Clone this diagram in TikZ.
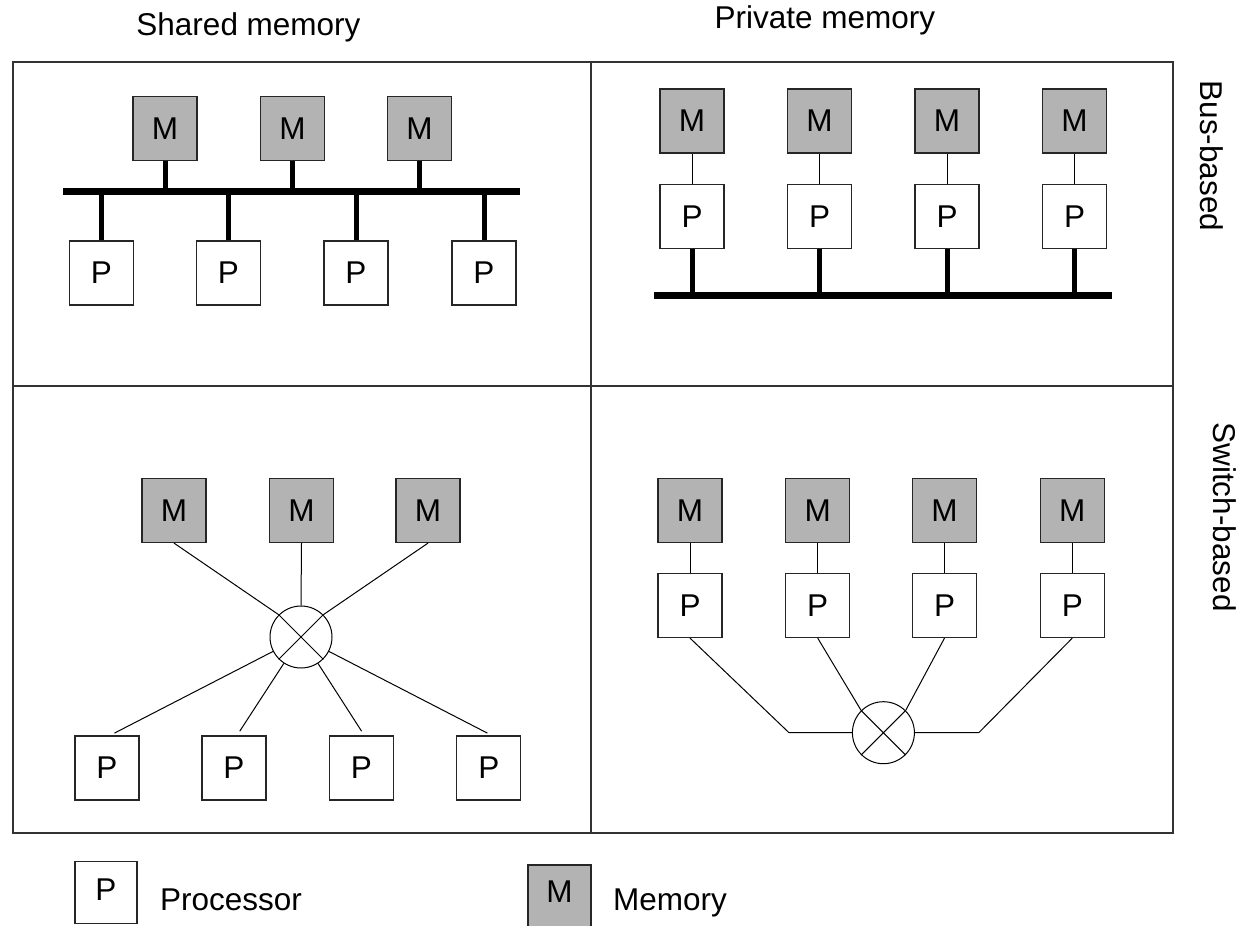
\documentclass[tikz,border=0pt]{standalone}
\usepackage{fontspec}
\setmainfont{Liberation Sans}
\definecolor{memgray}{RGB}{179,179,179}
\begin{document}
\begin{tikzpicture}[x=1pt,y=-1pt,
  txt/.style={font=\fontsize{31.5}{36}\selectfont, inner sep=0pt},
  pbox/.style={draw=black!85, line width=1.2pt, fill=white, minimum width=64pt, minimum height=64pt, inner sep=0pt, font=\fontsize{31.5}{36}\selectfont},
  mbox/.style={pbox, fill=memgray},
  bus/.style={line width=7pt},
  stub/.style={line width=5pt},
  wire/.style={line width=1pt},
  swc/.style={circle, draw, line width=1pt, minimum size=62pt, inner sep=0pt},
  frame/.style={line width=1.3pt, draw=black!80}]
\useasboundingbox (0,0) rectangle (1240,926);
% frame
\draw[frame] (13,62) rectangle (1173,833);
\draw[frame] (591,62) -- (591,833);
\draw[frame] (13,386) -- (1173,386);
% headers
\node[txt, anchor=base] (h1) at (248.5,35) {Shared memory};
\node[txt, anchor=base] (h2) at (825,28) {Private memory};
\node[txt, rotate=-90] (busl) at (1212,156) {Bus-based};
\node[txt, rotate=-90] (swl) at (1225,517) {Switch-based};
% top-left: shared memory, bus
\coordinate (busAL) at (63,191.5);
\coordinate (busAR) at (520,191.5);
\draw[bus] (busAL) -- (busAR);
\foreach \i/\x in {1/165,2/292.5,3/419.5}{
  \node[mbox] (a\i) at (\x,128.5) {M};
  \draw[stub] (a\i.south) -- (a\i.south |- busAL);
}
\foreach \i/\x in {1/101.5,2/228.5,3/356,4/484}{
  \node[pbox] (ap\i) at (\x,273) {P};
  \draw[stub] (ap\i.north) -- (ap\i.north |- busAL);
}
% top-right: private memory, bus
\coordinate (busBL) at (654,295);
\coordinate (busBR) at (1111.5,295);
\draw[bus] (busBL) -- (busBR);
\foreach \i/\x in {1/692,2/819.5,3/947,4/1074.5}{
  \node[mbox] (b\i) at (\x,121) {M};
  \node[pbox] (bp\i) at (\x,216.5) {P};
  \draw[wire] (b\i.south) -- (bp\i.north);
  \draw[stub] (bp\i.south) -- (bp\i.south |- busBL);
}
% bottom-left: shared memory, switch
\node[swc] (csw) at (301,637) {};
\draw[wire] (csw.45) -- (csw.225) (csw.135) -- (csw.315);
\foreach \i/\x in {1/174,2/301.5,3/428}{
  \node[mbox] (c\i) at (\x,510.5) {M};
}
\draw[wire] (c1.south) -- (csw.135);
\draw[wire] (c2.south) -- (csw.north);
\draw[wire] (c3.south) -- (csw.45);
\foreach \i/\x in {1/107,2/234,3/361.3,4/488.8}{
  \node[pbox] (cp\i) at (\x,768) {P};
  \draw[wire, shorten >=5pt] (csw) -- ([xshift=3pt]cp\i.north);
}
% bottom-right: private memory, switch
\node[swc] (dsw) at (883.4,732.7) {};
\draw[wire] (dsw.45) -- (dsw.225) (dsw.135) -- (dsw.315);
\foreach \i/\x in {1/690,2/817.7,3/944.5,4/1072.3}{
  \node[mbox] (d\i) at (\x,510.5) {M};
  \node[pbox] (dp\i) at (\x,605.5) {P};
  \draw[wire] (d\i.south) -- (dp\i.north);
}
\coordinate (dl) at (789,732.7);
\coordinate (dr) at (978.8,732.7);
\draw[wire] (dp1.south) -- (dl) -- (dsw.west);
\draw[wire] (dp4.south) -- (dr) -- (dsw.east);
\draw[wire] (dp2.south) -- (dsw.135);
\draw[wire] (dp3.south) -- (dsw.45);
% legend
\node[pbox, minimum width=62pt, minimum height=62pt] (lp) at (106,892.5) {\raisebox{5pt}{P}};
\node[txt, anchor=base west] (lpt) at (160,910) {Processor};
\node[mbox, minimum width=63pt, minimum height=64pt] (lm) at (559.5,897) {\raisebox{11pt}{M}};
\node[txt, anchor=base west] (lmt) at (613,910) {Memory};
\end{tikzpicture}
\end{document}
